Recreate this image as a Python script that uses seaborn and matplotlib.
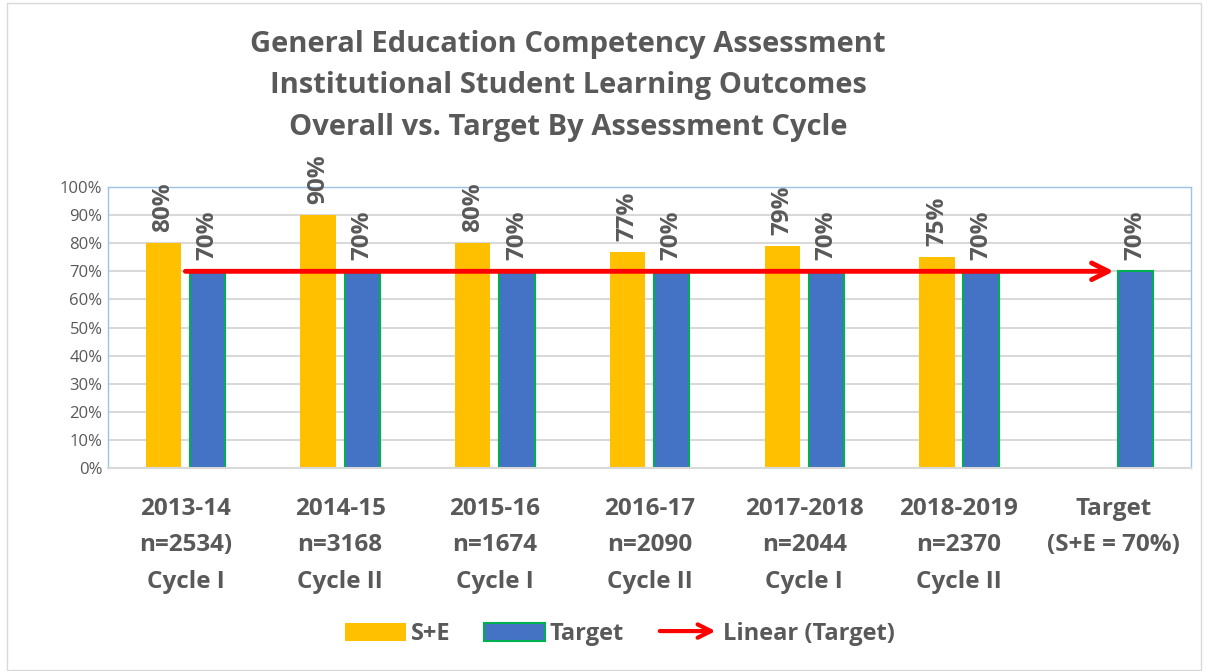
import numpy as np
import pandas as pd
import matplotlib
matplotlib.use("Agg")
import matplotlib.pyplot as plt
import seaborn as sns
from matplotlib.patches import Patch, FancyArrowPatch, Rectangle
from matplotlib.legend_handler import HandlerBase
from matplotlib.ticker import FuncFormatter

# data
cycles = ["2013-14\nn=2534)\nCycle I", "2014-15\nn=3168\nCycle II",
          "2015-16\nn=1674\nCycle I", "2016-17\nn=2090\nCycle II",
          "2017-2018\nn=2044\nCycle I", "2018-2019\nn=2370\nCycle II",
          "Target\n(S+E = 70%)"]
se_values = [80, 90, 80, 77, 79, 75, np.nan]
target_values = [70, 70, 70, 70, 70, 70, 70]
series_names = ["S+E", "Target"]

TEXT = "#595959"
YELLOW = "#FFC000"
BLUE = "#4472C4"
GREEN = "#00B050"

sns.set_theme(style="white")
plt.rcParams["font.family"] = ["Open Sans", "DejaVu Sans"]

df = pd.DataFrame({
    "cycle": cycles * 2,
    "series": [series_names[0]] * len(cycles) + [series_names[1]] * len(cycles),
    "value": se_values + target_values,
})

fig = plt.figure(figsize=(12.06, 6.71), dpi=100)
ax = fig.add_axes([0.0896, 0.3025, 0.898, 0.4188])

sns.barplot(data=df, x="cycle", y="value", hue="series", order=cycles,
            hue_order=series_names, palette={"S+E": YELLOW, "Target": BLUE},
            saturation=1, width=0.57, gap=0.2, ax=ax, legend=False, linewidth=0)

for bar in ax.containers[1]:
    bar.set_edgecolor(GREEN)
    bar.set_linewidth(1.5)

for cont in ax.containers:
    ax.bar_label(cont, fmt="{:.0f}%", rotation=90, padding=8,
                 fontsize=17.5, fontweight="bold", color=TEXT)

# linear trendline of the Target series
xs = np.arange(len(cycles))
slope, icpt = np.polyfit(xs, target_values, 1)
ax.annotate("", xy=(xs[-1], slope * xs[-1] + icpt), xytext=(xs[0], icpt),
            arrowprops=dict(arrowstyle="->", color="red", lw=3.5,
                            mutation_scale=30, shrinkA=0, shrinkB=0),
            zorder=5)

ax.set_ylim(0, 100)
ax.set_xlim(-0.5, len(cycles) - 0.5)
ax.set_yticks(range(0, 101, 10))
ax.yaxis.set_major_formatter(FuncFormatter(lambda v, p: f"{v:.0f}%"))
ax.grid(axis="y", color="#d9d9d9", lw=1.5)
ax.set_axisbelow(True)
ax.set_xlabel("")
ax.set_ylabel("")
ax.tick_params(axis="y", length=0, labelsize=12, labelcolor=TEXT, pad=4)
ax.tick_params(axis="x", length=0, labelsize=17.5, labelcolor=TEXT, pad=21)
for lbl in ax.get_xticklabels():
    lbl.set_fontweight("bold")
    lbl.set_linespacing(1.68)
for side in ["left", "top", "right"]:
    ax.spines[side].set_color("#9dc3e6")
    ax.spines[side].set_linewidth(1)
ax.spines["bottom"].set_color("#d9d9d9")
ax.spines["bottom"].set_linewidth(1.5)

fig.text(0.471, 0.872,
         "General Education Competency Assessment\n"
         "Institutional Student Learning Outcomes\n"
         "Overall vs. Target By Assessment Cycle",
         ha="center", va="center", fontsize=21, fontweight="bold",
         color=TEXT, linespacing=1.58)


class HandlerArrow(HandlerBase):
    def create_artists(self, legend, orig_handle, xdescent, ydescent,
                       width, height, fontsize, trans):
        arr = FancyArrowPatch((0, height / 2), (width, height / 2),
                              arrowstyle="->", mutation_scale=24,
                              color="red", lw=3, transform=trans)
        return [arr]


arrow_handle = FancyArrowPatch((0, 0), (1, 0))
handles = [Patch(facecolor=YELLOW, edgecolor="none"),
           Patch(facecolor=BLUE, edgecolor=GREEN, lw=1.5),
           arrow_handle]
leg = fig.legend(handles, ["S+E", "Target", "Linear (Target)"],
                 loc="center", bbox_to_anchor=(0.514, 0.055), ncol=3,
                 frameon=False, handlelength=2.6, handleheight=0.8,
                 handletextpad=0.2, columnspacing=1.4,
                 prop={"size": 17, "weight": "bold"},
                 handler_map={FancyArrowPatch: HandlerArrow()})
for t in leg.get_texts():
    t.set_color(TEXT)

fig.patches.append(Rectangle((0.006, 0.002), 0.99, 0.994, transform=fig.transFigure,
                             fill=False, edgecolor="#d9d9d9", lw=1))

fig.savefig("out.png", dpi=100)
